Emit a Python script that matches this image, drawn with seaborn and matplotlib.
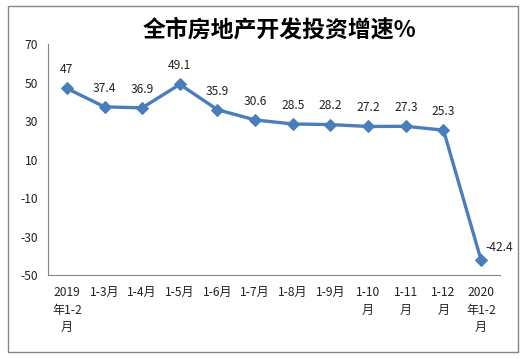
# 全市房地产开发投资增速 line chart
import matplotlib
matplotlib.use('Agg')
from matplotlib import pyplot as plt
from matplotlib.patches import Rectangle
import seaborn as sns
import pandas as pd

# data
months = ['2019\n年1-2\n月', '1-3月', '1-4月', '1-5月', '1-6月', '1-7月', '1-8月',
          '1-9月', '1-10\n月', '1-11\n月', '1-12\n月', '2020\n年1-2\n月']
growth = [47, 37.4, 36.9, 49.1, 35.9, 30.6, 28.5, 28.2, 27.2, 27.3, 25.3, -42.4]
y_ticks = [70, 50, 30, 10, -10, -30, -50]

df = pd.DataFrame({'pos': range(len(months)), 'growth': growth})

sns.set_style('white')
plt.rcParams['font.family'] = ['Noto Sans CJK SC', 'DejaVu Sans']

fig = plt.figure(figsize=(5.31, 3.59), dpi=100)
ax = fig.add_axes([0.0904, 0.234, 0.8512, 0.643])

line_color = '#4A7EBB'
sns.lineplot(data=df, x='pos', y='growth', ax=ax, color=line_color, linewidth=2.4,
             marker='D', markersize=6, markeredgecolor=line_color)

# data labels
for i, v in enumerate(growth):
    txt = f'{v:g}'
    if i == len(growth) - 1:
        ax.annotate(txt, (i, v), xytext=(13, 9), textcoords='offset points',
                    ha='center', va='center', fontsize=8.7, color='#222222')
    else:
        ax.annotate(txt, (i, v), xytext=(0, 13.5), textcoords='offset points',
                    ha='center', va='center', fontsize=8.7, color='#222222')

# axes styling
ax.set_xlim(-0.5, len(months) - 0.5)
ax.set_ylim(-50, 70)
ax.set_yticks(y_ticks)
ax.set_yticklabels([str(t) for t in y_ticks], fontsize=8.7, color='#222222')
ax.set_xticks(range(len(months)))
ax.set_xticklabels(months, fontsize=8.7, color='#222222', linespacing=1.45, va='top')
ax.set_xticks([i - 0.5 for i in range(len(months) + 1)], minor=True)
ax.tick_params(axis='x', which='major', length=0, pad=8)
ax.tick_params(axis='x', which='minor', length=4, color='#868686', width=0.8, direction='out')
ax.tick_params(axis='y', length=4, color='#868686', width=0.8, direction='out', pad=3)
ax.set_xlabel('')
ax.set_ylabel('')
for s in ['top', 'right']:
    ax.spines[s].set_visible(False)
for s in ['left', 'bottom']:
    ax.spines[s].set_color('#868686')
    ax.spines[s].set_linewidth(0.8)

fig.suptitle('全市房地产开发投资增速%', x=0.527, y=0.948, fontsize=16.5,
             fontweight='bold', color='black')

# outer chart border
fig.patches.append(Rectangle((8 / 531, 1 - 352 / 359), 510 / 531, 346 / 359,
                             transform=fig.transFigure, fill=False,
                             edgecolor='#868686', linewidth=1))

fig.savefig('out.png', dpi=100)
